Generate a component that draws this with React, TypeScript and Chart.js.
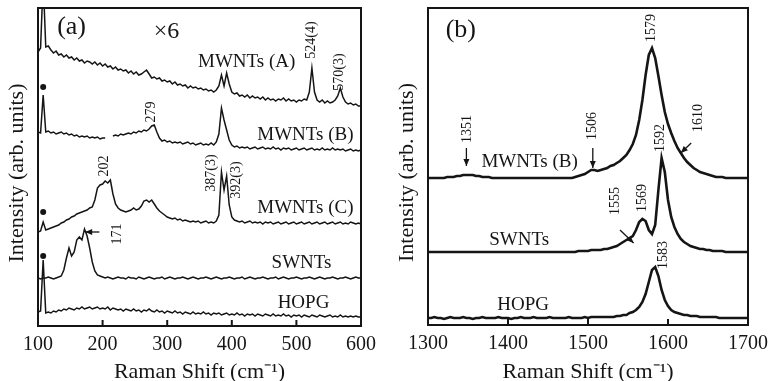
import { useEffect, useRef } from 'react';
import { Chart, registerables } from 'chart.js';

Chart.register(...registerables);

// ---------- Panel (a): low-frequency Raman spectra ----------
const shiftA = [
  100, 104, 108, 112, 116, 120, 124, 128, 132, 136,
  140, 144, 148, 152, 156, 160, 164, 168, 172, 176,
  180, 184, 188, 192, 196, 200, 204, 208, 212, 216,
  220, 224, 228, 232, 236, 240, 244, 248, 252, 256,
  260, 264, 268, 272, 276, 280, 284, 288, 292, 296,
  300, 304, 308, 312, 316, 320, 324, 328, 332, 336,
  340, 344, 348, 352, 356, 360, 364, 368, 372, 376,
  380, 384, 388, 392, 396, 400, 404, 408, 412, 416,
  420, 424, 428, 432, 436, 440, 444, 448, 452, 456,
  460, 464, 468, 472, 476, 480, 484, 488, 492, 496,
  500, 504, 508, 512, 516, 520, 524, 528, 532, 536,
  540, 544, 548, 552, 556, 560, 564, 568, 572, 576,
  580, 584, 588, 592, 596, 600,
];

const mwntsA_A = [
  274, 278, 346, 279, 280, 276, 273, 275, 271, 272,
  269, 271, 268, 269, 266, 268, 265, 266, 263, 265,
  264, 262, 264, 261, 263, 260, 262, 259, 260, 257,
  259, 256, 257, 255, 256, 253, 255, 252, 254, 251,
  252, 254, 256, 252, 248, 249, 247, 248, 245, 246,
  244, 245, 242, 244, 241, 242, 240, 241, 238, 240,
  238, 239, 237, 238, 236, 237, 235, 236, 234, 236,
  240, 251, 240, 253, 242, 234, 232, 233, 230, 231,
  229, 231, 228, 230, 228, 229, 227, 229, 226, 228,
  226, 227, 225, 227, 226, 228, 225, 227, 225, 226,
  224, 226, 225, 227, 226, 234, 258, 234, 226, 224,
  226, 223, 225, 223, 224, 226, 230, 238, 229, 224,
  222, 223, 221, 222, 220, 220,
];

const mwntsA_B = [
  194, 193, 231, 194, 195, 193, 194, 192, 193, 194,
  192, 193, 191, 192, 190, 191, 189, 190, 189, 190,
  188, 189, 188, 189, 187, 188, 188, null, null, 190,
  191, 190, 192, 191, 192, 193, 192, 194, 193, 195,
  194, 196, 195, 197, 200, 201, 194, 188, 185, 186,
  184, 185, 183, 184, 183, 184, 182, 183, 184, 182,
  183, 181, 182, 183, 181, 182, 181, 183, 181, 184,
  192, 218, 206, 196, 186, 181, 179, 180, 178, 179,
  178, 179, 177, 178, 179, 177, 178, 179, 177, 178,
  177, 179, 177, 178, 176, 178, 177, 178, 176, 177,
  178, 176, 177, 178, 176, 177, 178, 176, 177, 176,
  178, 176, 177, 176, 178, 176, 177, 176, 177, 175,
  176, 177, 175, 176, 175, 176,
];

const mwntsA_C = [
  94, 95, 104, 96, 97, 98, 99, 100, 101, 103,
  104, 106, 107, 109, 110, 112, 113, 114, 115, 116,
  118, 119, 126, 138, 141, 142, 145, 143, 146, 132,
  122, 118, 116, 115, 114, 115, 116, 118, 116, 117,
  120, 125, 126, 124, 126, 122, 118, 115, 113, 111,
  109, 108, 107, 108, 106, 107, 105, 106, 105, 104,
  105, 104, 105, 103, 104, 105, 103, 104, 103, 105,
  111, 154, 136, 150, 121, 109, 106, 105, 104, 105,
  103, 104, 105, 103, 104, 103, 104, 102, 104, 103,
  104, 102, 103, 104, 102, 103, 104, 102, 103, 104,
  102, 103, 104, 102, 103, 104, 102, 103, 104, 102,
  103, 104, 102, 103, 104, 102, 103, 104, 102, 103,
  102, 104, 103, 102, 103, 102,
];

const swntsA = [
  48, 47, 48, 48, 49, 48, 47, 48, 49, 50,
  56, 68, 78, 70, 74, 86, 89, 86, 97, 90,
  78, 64, 55, 51, 50, 49, 48, 49, 48, 47,
  48, 49, 48, 48, 47, 49, 48, 48, 47, 49,
  48, 47, 48, 49, 48, 47, 48, 48, 49, 47,
  48, 49, 48, 47, 48, 48, 49, 48, 47, 48,
  49, 48, 47, 48, 48, 49, 48, 47, 48, 49,
  48, 47, 48, 48, 49, 48, 47, 48, 48, 49,
  47, 48, 49, 48, 47, 48, 48, 49, 48, 47,
  48, 48, 49, 47, 48, 49, 48, 47, 48, 48,
  49, 48, 47, 48, 48, 49, 48, 47, 48, 49,
  48, 47, 48, 48, 49, 48, 47, 48, 48, 49,
  48, 47, 48, 49, 48, 48,
];

const hopgA = [
  14, 15, 66, 13, 14, 13, 15, 14, 16, 15,
  17, 16, 18, 17, 16, 18, 17, 19, 17, 18,
  19, 17, 18, 19, 17, 18, 17, 19, 16, 18,
  17, 16, 17, 15, 17, 16, 15, 17, 15, 16,
  14, 16, 15, 17, 15, 14, 16, 14, 15, 13,
  15, 14, 13, 15, 13, 14, 12, 14, 13, 12,
  14, 12, 13, 12, 14, 12, 13, 11, 13, 12,
  13, 11, 12, 13, 11, 12, 11, 13, 11, 12,
  10, 12, 11, 12, 10, 12, 11, 10, 12, 11,
  10, 12, 10, 11, 10, 12, 10, 11, 9, 11,
  10, 11, 9, 11, 10, 9, 11, 10, 9, 11,
  10, 9, 10, 11, 9, 10, 9, 11, 9, 10,
  9, 10, 9, 10, 9, 9,
];

const ticksA = [100, 200, 300, 400, 500, 600];

// ---------- Panel (b): G-band region ----------
const shiftB = [
  1300, 1304, 1308, 1312, 1316, 1320, 1324, 1328, 1332, 1336,
  1340, 1344, 1348, 1352, 1356, 1360, 1364, 1368, 1372, 1376,
  1380, 1384, 1388, 1392, 1396, 1400, 1404, 1408, 1412, 1416,
  1420, 1424, 1428, 1432, 1436, 1440, 1444, 1448, 1452, 1456,
  1460, 1464, 1468, 1472, 1476, 1480, 1484, 1488, 1492, 1496,
  1500, 1504, 1508, 1512, 1516, 1520, 1524, 1528, 1532, 1536,
  1540, 1544, 1548, 1552, 1556, 1560, 1564, 1568, 1572, 1576,
  1580, 1584, 1588, 1592, 1596, 1600, 1604, 1608, 1612, 1616,
  1620, 1624, 1628, 1632, 1636, 1640, 1644, 1648, 1652, 1656,
  1660, 1664, 1668, 1672, 1676, 1680, 1684, 1688, 1692, 1696,
  1700,
];

const mwntsB_G = [
  147, 147, 147, 147, 147, 147, 148, 148, 148, 149,
  149, 150, 150, 150, 150, 149, 149, 148, 148, 148,
  147, 147, 147, 147, 147, 147, 147, 147, 147, 147,
  147, 147, 147, 147, 147, 147, 147, 147, 147, 147,
  147, 147, 147, 147, 147, 147, 148, 149, 150, 151,
  153, 155, 155, 154, 155, 156, 157, 159, 160, 162,
  164, 167, 170, 175, 181, 190, 205, 225, 250, 270,
  277, 267, 249, 230, 213, 201, 192, 184, 177, 172,
  167, 163, 160, 157, 155, 153, 152, 151, 150, 149,
  148, 148, 148, 147, 147, 147, 147, 147, 147, 147,
  147,
];

const swntsG = [
  73, 73, 73, 73, 73, 73, 73, 73, 73, 73,
  73, 73, 73, 73, 73, 73, 73, 73, 73, 73,
  73, 73, 73, 73, 73, 73, 73, 73, 73, 73,
  73, 73, 73, 73, 73, 73, 73, 73, 73, 73,
  73, 73, 73, 73, 73, 73, 73, 74, 74, 74,
  74, 75, 75, 75, 75, 76, 76, 77, 78, 79,
  81, 83, 85, 87, 89, 95, 103, 106, 104, 95,
  91, 100, 135, 167, 153, 125, 108, 98, 91, 86,
  83, 81, 79, 78, 77, 76, 76, 75, 75, 74,
  74, 74, 74, 73, 73, 73, 73, 73, 73, 73,
  73,
];

const hopgG = [
  7, 7, 8, 7, 7, 6, 7, 8, 7, 7,
  7, 8, 7, 7, 6, 7, 7, 8, 7, 7,
  7, 7, 8, 7, 7, 7, 6, 7, 7, 8,
  7, 7, 7, 8, 7, 7, 7, 7, 8, 7,
  7, 7, 7, 7, 8, 7, 7, 7, 7, 8,
  7, 8, 8, 8, 8, 8, 8, 8, 8, 9,
  9, 10, 10, 12, 13, 15, 18, 23, 31, 43,
  55, 58, 49, 35, 25, 19, 15, 13, 12, 11,
  10, 10, 9, 9, 9, 8, 8, 8, 8, 8,
  8, 7, 7, 7, 7, 7, 7, 7, 7, 7,
  7,
];

const ticksB = [1300, 1400, 1500, 1600, 1700];

// ---------- annotation texts (data coordinates) ----------
type Note = { x: number; y: number; t: string; s: number; r?: boolean };
type Arrow = { x1: number; y1: number; x2: number; y2: number };
type Dot = { x: number; y: number };

const notesA: Note[] = [
  { x: 152, y: 299, t: '(a)', s: 26 },
  { x: 299, y: 294, t: '×6', s: 24 },
  { x: 423, y: 264, t: 'MWNTs (A)', s: 19 },
  { x: 523, y: 286, t: '524(4)', s: 14, r: true },
  { x: 567, y: 254, t: '570(3)', s: 14, r: true },
  { x: 276, y: 214, t: '279', s: 14, r: true },
  { x: 514, y: 191, t: 'MWNTs (B)', s: 19 },
  { x: 203, y: 160, t: '202', s: 14, r: true },
  { x: 369, y: 153, t: '387(3)', s: 14, r: true },
  { x: 407, y: 146, t: '392(3)', s: 14, r: true },
  { x: 514, y: 118, t: 'MWNTs (C)', s: 19 },
  { x: 223, y: 92, t: '171', s: 14, r: true },
  { x: 508, y: 63, t: 'SWNTs', s: 19 },
  { x: 511, y: 23, t: 'HOPG', s: 19 },
];
const arrowsA: Arrow[] = [{ x1: 195, y1: 94, x2: 173, y2: 94 }];
const dotsA: Dot[] = [
  { x: 108, y: 239 },
  { x: 108, y: 114 },
  { x: 108, y: 70 },
];

const notesB: Note[] = [
  { x: 1341, y: 295, t: '(b)', s: 26 },
  { x: 1579, y: 297, t: '1579', s: 14, r: true },
  { x: 1349, y: 196, t: '1351', s: 14, r: true },
  { x: 1506, y: 199, t: '1506', s: 14, r: true },
  { x: 1638, y: 207, t: '1610', s: 14, r: true },
  { x: 1590, y: 187, t: '1592', s: 14, r: true },
  { x: 1427, y: 163, t: 'MWNTs (B)', s: 19 },
  { x: 1534, y: 124, t: '1555', s: 14, r: true },
  { x: 1568, y: 127, t: '1569', s: 14, r: true },
  { x: 1414, y: 85, t: 'SWNTs', s: 19 },
  { x: 1594, y: 70, t: '1583', s: 14, r: true },
  { x: 1419, y: 20, t: 'HOPG', s: 19 },
];
const arrowsB: Arrow[] = [
  { x1: 1348, y1: 177, x2: 1348, y2: 159 },
  { x1: 1506, y1: 177, x2: 1506, y2: 157 },
  { x1: 1629, y1: 182, x2: 1616, y2: 172 },
  { x1: 1540, y1: 95, x2: 1557, y2: 82 },
];

const FONT = '"Liberation Serif", "Times New Roman", serif';
const INK = '#151515';
const Y_TITLE = 'Intensity (arb. units)';

function decor(notes: Note[], arrows: Arrow[], dots: Dot[], inner: number[]) {
  return {
    id: 'decor',
    afterDatasetsDraw(chart: any) {
      const { ctx, chartArea: a } = chart;
      const xs = chart.scales.x;
      const ys = chart.scales.y;
      ctx.save();
      ctx.strokeStyle = INK;
      ctx.fillStyle = INK;
      ctx.lineWidth = 2;
      ctx.strokeRect(a.left, a.top, a.right - a.left, a.bottom - a.top);
      inner.forEach((v) => {
        const px = xs.getPixelForValue(v);
        ctx.beginPath();
        ctx.moveTo(px, a.bottom);
        ctx.lineTo(px, a.bottom - 6);
        ctx.stroke();
      });
      // y-axis title
      ctx.save();
      ctx.translate(17, (a.top + a.bottom) / 2 + 6);
      ctx.rotate(-Math.PI / 2);
      ctx.font = `22px ${FONT}`;
      ctx.textAlign = 'center';
      ctx.textBaseline = 'middle';
      ctx.fillText(Y_TITLE, 0, 0);
      ctx.restore();
      notes.forEach((n) => {
        ctx.save();
        ctx.translate(xs.getPixelForValue(n.x), ys.getPixelForValue(n.y));
        if (n.r) ctx.rotate(-Math.PI / 2);
        ctx.font = `${n.s}px ${FONT}`;
        ctx.textAlign = 'center';
        ctx.textBaseline = 'middle';
        ctx.fillText(n.t, 0, 0);
        ctx.restore();
      });
      ctx.lineWidth = 1.3;
      arrows.forEach((ar) => {
        const x1 = xs.getPixelForValue(ar.x1);
        const y1 = ys.getPixelForValue(ar.y1);
        const x2 = xs.getPixelForValue(ar.x2);
        const y2 = ys.getPixelForValue(ar.y2);
        const ang = Math.atan2(y2 - y1, x2 - x1);
        ctx.beginPath();
        ctx.moveTo(x1, y1);
        ctx.lineTo(x2, y2);
        ctx.stroke();
        ctx.beginPath();
        ctx.moveTo(x2, y2);
        ctx.lineTo(x2 - 7 * Math.cos(ang) + 3 * Math.sin(ang), y2 - 7 * Math.sin(ang) - 3 * Math.cos(ang));
        ctx.lineTo(x2 - 7 * Math.cos(ang) - 3 * Math.sin(ang), y2 - 7 * Math.sin(ang) + 3 * Math.cos(ang));
        ctx.closePath();
        ctx.fill();
      });
      dots.forEach((d) => {
        ctx.beginPath();
        ctx.arc(xs.getPixelForValue(d.x), ys.getPixelForValue(d.y), 3, 0, Math.PI * 2);
        ctx.fill();
      });
      ctx.restore();
    },
  };
}

type PanelCfg = {
  shift: number[];
  series: (number | null)[][];
  xmin: number;
  xmax: number;
  ymax: number;
  ticks: number[];
  inner: number[];
  lw: number;
  padRight: number;
  xh: number;
  notes: Note[];
  arrows: Arrow[];
  dots: Dot[];
};

function build(canvas: HTMLCanvasElement, p: PanelCfg) {
  const datasets = p.series.map((s) => ({
    data: p.shift.map((x, i) => ({ x, y: s[i] })),
    borderColor: INK,
    borderWidth: p.lw,
    pointRadius: 0,
    tension: 0,
    fill: false,
    spanGaps: false,
  }));
  return new Chart(canvas, {
    type: 'line',
    data: { datasets } as any,
    options: {
      responsive: false,
      animation: false,
      layout: { padding: { top: 8, right: p.padRight, left: 0, bottom: 0 } },
      plugins: { legend: { display: false }, tooltip: { enabled: false } },
      scales: {
        x: {
          type: 'linear',
          min: p.xmin,
          max: p.xmax,
          afterBuildTicks: (s: any) => {
            s.ticks = p.ticks.map((v) => ({ value: v }));
          },
          ticks: {
            font: { family: FONT, size: 20 },
            color: INK,
            padding: 7,
            maxRotation: 0,
            callback: (v: any) => String(v),
          },
          grid: { display: false, drawTicks: false },
          border: { display: false },
          title: {
            display: true,
            text: 'Raman Shift (cm⁻¹)',
            font: { family: FONT, size: 22 },
            color: INK,
            padding: { top: 0, bottom: -4 },
          },
          afterFit: (s: any) => {
            s.height = p.xh;
          },
        },
        y: {
          min: 0,
          max: p.ymax,
          ticks: { display: false },
          grid: { display: false, drawTicks: false },
          border: { display: false },
          title: { display: false },
          afterFit: (s: any) => {
            s.width = 38;
          },
        },
      },
    } as any,
    plugins: [decor(p.notes, p.arrows, p.dots, p.inner)],
  });
}

function Panel({ left, width, cfg }: { left: number; width: number; cfg: PanelCfg }) {
  const ref = useRef<HTMLCanvasElement | null>(null);
  useEffect(() => {
    if (!ref.current) return;
    const c = build(ref.current, cfg);
    return () => c.destroy();
  }, []);
  return (
    <canvas
      ref={ref}
      width={width}
      height={381}
      style={{ position: 'absolute', left, top: 0, width, height: 381 }}
    />
  );
}

const cfgA: PanelCfg = {
  shift: shiftA,
  series: [mwntsA_A, mwntsA_B, mwntsA_C, swntsA, hopgA],
  xmin: 100,
  xmax: 600,
  ymax: 318,
  ticks: ticksA,
  inner: [200, 300, 400, 500],
  lw: 1.5,
  padRight: 29,
  xh: 55,
  notes: notesA,
  arrows: arrowsA,
  dots: dotsA,
};

const cfgB: PanelCfg = {
  shift: shiftB,
  series: [mwntsB_G, swntsG, hopgG],
  xmin: 1300,
  xmax: 1700,
  ymax: 317,
  ticks: ticksB,
  inner: [1400, 1500, 1600],
  lw: 2.6,
  padRight: 22,
  xh: 56,
  notes: notesB,
  arrows: arrowsB,
  dots: [],
};

export default function App() {
  return (
    <div style={{ position: 'fixed', left: 0, top: 0, width: 775, height: 381, background: '#fff' }}>
      <Panel left={0} width={390} cfg={cfgA} />
      <Panel left={390} width={385} cfg={cfgB} />
    </div>
  );
}
